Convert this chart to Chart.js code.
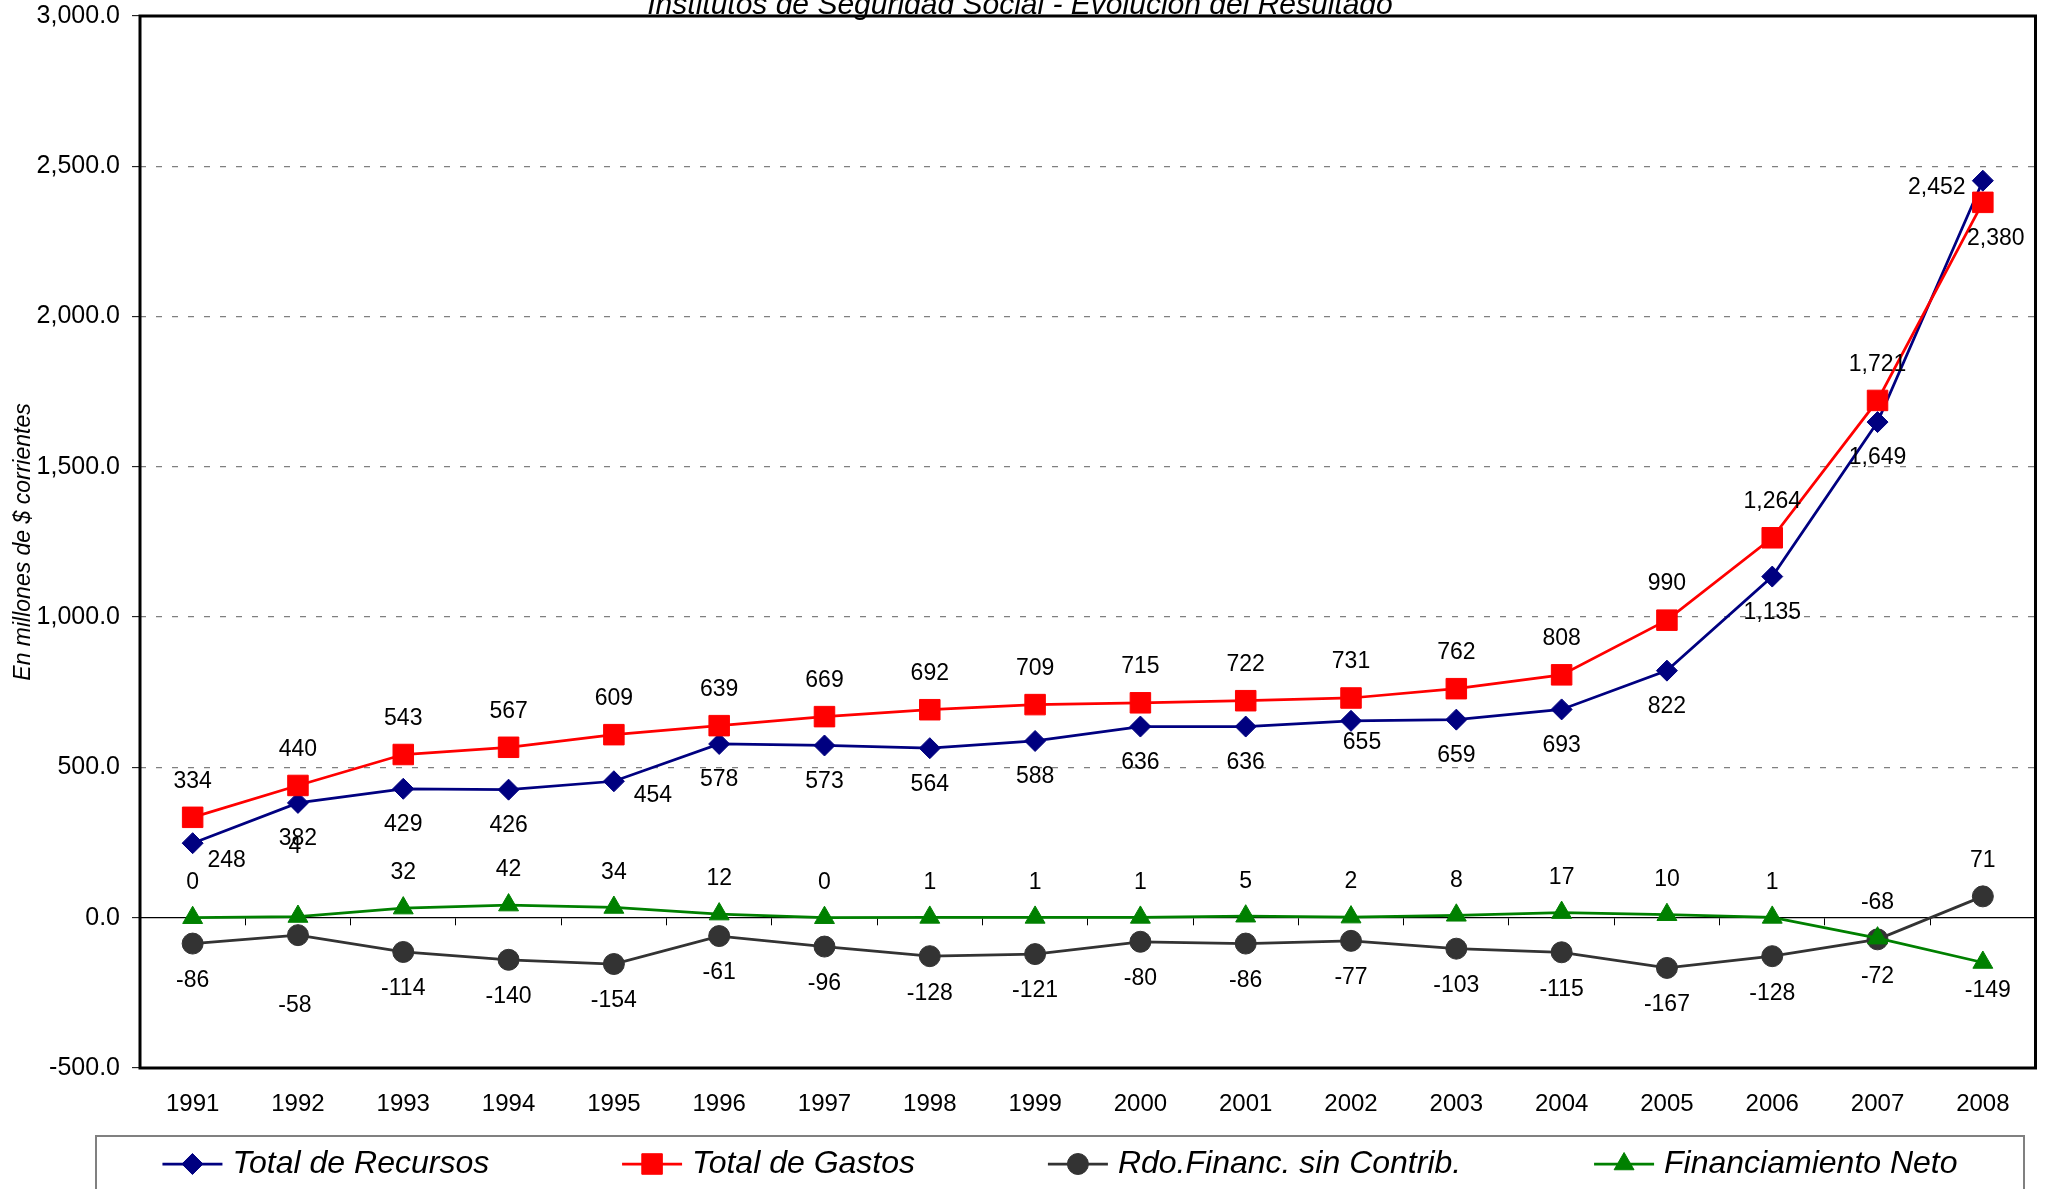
<!DOCTYPE html>
<html>
<head>
<meta charset="utf-8">
<title>Institutos de Seguridad Social - Evolución del Resultado</title>
<script src="https://cdn.jsdelivr.net/npm/chart.js@4.4.0/dist/chart.umd.min.js"></script>
<style>
  html, body { margin: 0; padding: 0; background: #fff; }
  #graph { display: block; }
</style>
</head>
<body>
<canvas id="graph" width="2051" height="1189"></canvas>
<script>
// series, in millones de $ corrientes
const years = ['1991', '1992', '1993', '1994', '1995', '1996', '1997', '1998', '1999',
               '2000', '2001', '2002', '2003', '2004', '2005', '2006', '2007', '2008']
const recursos = [248, 382, 429, 426, 454, 578, 573, 564, 588, 636, 636, 655, 659, 693, 822, 1135, 1649, 2452]
const gastos = [334, 440, 543, 567, 609, 639, 669, 692, 709, 715, 722, 731, 762, 808, 990, 1264, 1721, 2380]
const rdoFinanc = [-86, -58, -114, -140, -154, -61, -96, -128, -121, -80, -86, -77, -103, -115, -167, -128, -72, 71]
const financiamiento = [0, 4, 32, 42, 34, 12, 0, 1, 1, 1, 5, 2, 8, 17, 10, 1, -68, -149]

const yMin = -500
const yMax = 3000
const yStep = 500

const titleText = 'Institutos de Seguridad Social - Evolución del Resultado'
const fontFamily = '"Liberation Sans", Arial, Helvetica, sans-serif'

// where each value label sits relative to its point: default vertical shift,
// plus the few labels that were moved by hand
const labelShift = [
    { dy: 36, moved: { 0: [34, 17], 4: [39, 14], 11: [11, 22], 17: [-46, 7] } },
    { dy: -36, moved: { 17: [13, 36] } },
    { dy: 37, moved: { 1: [-3, 71], 17: [0, -36] } },
    { dy: -35, moved: { 1: [-3, -70], 17: [5, 28] } }
]

Chart.defaults.font.family = fontFamily
Chart.defaults.color = '#000'

const fmt = n => n.toLocaleString('en-US')

const plotFrame = {
    id: 'plotFrame',
    afterDatasetsDraw(chart) {
        const { ctx, chartArea: a } = chart
        ctx.save()
        ctx.lineWidth = 3
        ctx.strokeStyle = '#000'
        ctx.strokeRect(a.left, a.top, a.right - a.left, a.bottom - a.top)
        ctx.restore()
    }
}

const pointLabels = {
    id: 'pointLabels',
    afterDatasetsDraw(chart) {
        const ctx = chart.ctx
        ctx.save()
        ctx.font = '23px ' + fontFamily
        ctx.fillStyle = '#000'
        ctx.textAlign = 'center'
        ctx.textBaseline = 'middle'
        chart.data.datasets.forEach((ds, i) => {
            const shift = labelShift[i]
            chart.getDatasetMeta(i).data.forEach((pt, j) => {
                const [dx, dy] = shift.moved[j] || [0, shift.dy]
                ctx.fillText(fmt(ds.data[j]), pt.x + dx, pt.y + dy)
            })
        })
        ctx.restore()
    }
}

const topTitle = {
    id: 'topTitle',
    afterDraw(chart) {
        const ctx = chart.ctx
        ctx.save()
        ctx.font = 'italic 30px ' + fontFamily
        ctx.fillStyle = '#000'
        ctx.textAlign = 'center'
        ctx.textBaseline = 'alphabetic'
        ctx.fillText(titleText, 1020, 14)
        ctx.restore()
    }
}

function drawMarker(ctx, ds, x, y) {
    ctx.fillStyle = ds.pointBackgroundColor
    ctx.strokeStyle = ds.pointBorderColor
    ctx.lineWidth = 1
    if (Chart.helpers && Chart.helpers.drawPoint) {
        Chart.helpers.drawPoint(ctx, { pointStyle: ds.pointStyle, radius: ds.pointRadius, rotation: 0, borderWidth: 1 }, x, y)
    } else {
        ctx.beginPath()
        ctx.arc(x, y, ds.pointRadius, 0, Math.PI * 2)
        ctx.fill()
    }
}

// legend box under the axis, items spread evenly like the spreadsheet does
const boxLegend = {
    id: 'boxLegend',
    afterDraw(chart) {
        const ctx = chart.ctx
        const box = { left: 96, top: 1136, right: 2024 }
        const cy = 1164
        const sample = 60
        ctx.save()
        ctx.lineWidth = 2
        ctx.strokeStyle = '#808080'
        ctx.strokeRect(box.left, box.top, box.right - box.left, 120)
        ctx.font = 'italic 32px ' + fontFamily
        const widths = chart.data.datasets.map(ds => sample + 10 + ctx.measureText(ds.label).width)
        const total = widths.reduce((s, w) => s + w, 0)
        const gap = (box.right - box.left - total) / widths.length
        let x = box.left + gap / 2
        chart.data.datasets.forEach((ds, i) => {
            ctx.strokeStyle = ds.borderColor
            ctx.lineWidth = ds.borderWidth
            ctx.beginPath()
            ctx.moveTo(x, cy)
            ctx.lineTo(x + sample, cy)
            ctx.stroke()
            drawMarker(ctx, ds, x + sample / 2, cy)
            ctx.fillStyle = '#000'
            ctx.textAlign = 'left'
            ctx.textBaseline = 'middle'
            ctx.fillText(ds.label, x + sample + 10, cy)
            x += widths[i] + gap
        })
        ctx.restore()
    }
}

function series(label, data, color, style, radius, order) {
    return {
        label: label,
        data: data,
        borderColor: color,
        backgroundColor: color,
        pointBackgroundColor: color,
        pointBorderColor: color,
        pointBorderWidth: 1,
        pointStyle: style,
        pointRadius: radius,
        pointHoverRadius: radius,
        borderWidth: 2.75,
        tension: 0,
        fill: false,
        order: order
    }
}

new Chart(document.querySelector('#graph'), {
    type: 'line',
    data: {
        labels: years,
        datasets: [
            series('Total de Recursos', recursos, '#000080', 'rectRot', 10.5, 4),
            series('Total de Gastos', gastos, '#ff0000', 'rect', 14.5, 3),
            series('Rdo.Financ. sin Contrib.', rdoFinanc, '#333333', 'circle', 10.5, 2),
            series('Financiamiento Neto', financiamiento, '#008000', 'triangle', 11.5, 1)
        ]
    },
    options: {
        responsive: false,
        animation: false,
        events: [],
        layout: { padding: { top: 16, right: 13, bottom: 56, left: 0 } },
        plugins: {
            legend: { display: false },
            tooltip: { enabled: false }
        },
        scales: {
            x: {
                offset: true,
                grid: { display: false, drawTicks: false },
                border: { display: false },
                ticks: { font: { size: 24 }, padding: 22, maxRotation: 0, autoSkip: false },
                afterFit: s => {
                    s.height = 65
                    s.paddingLeft = 0
                    s.paddingRight = 0
                }
            },
            // zero line with its small category ticks
            x2: {
                axis: 'x',
                type: 'category',
                position: { y: 0 },
                offset: true,
                grid: { offset: true, drawOnChartArea: false, drawTicks: true, tickLength: 7, tickColor: '#000', tickWidth: 1 },
                border: { display: true, color: '#000', width: 1.3 },
                ticks: { display: false }
            },
            y: {
                min: yMin,
                max: yMax,
                ticks: {
                    stepSize: yStep,
                    font: { size: 25 },
                    padding: 12,
                    callback: v => v.toLocaleString('en-US', { minimumFractionDigits: 1, maximumFractionDigits: 1 })
                },
                grid: {
                    color: c => (c.tick && c.tick.value === 0) ? 'rgba(0,0,0,0)' : '#808080',
                    lineWidth: 1.3,
                    tickLength: 8,
                    tickColor: '#000',
                    tickWidth: 1,
                    borderDash: [6, 10]
                },
                border: { display: false, dash: [6, 10] },
                title: {
                    display: true,
                    text: 'En millones de $ corrientes',
                    font: { size: 23, style: 'italic' },
                    padding: { top: 10, bottom: 0 }
                },
                afterFit: s => {
                    s.width = 140
                    s.paddingTop = 0
                    s.paddingBottom = 0
                }
            }
        }
    },
    plugins: [plotFrame, pointLabels, topTitle, boxLegend]
})
</script>
</body>
</html>
